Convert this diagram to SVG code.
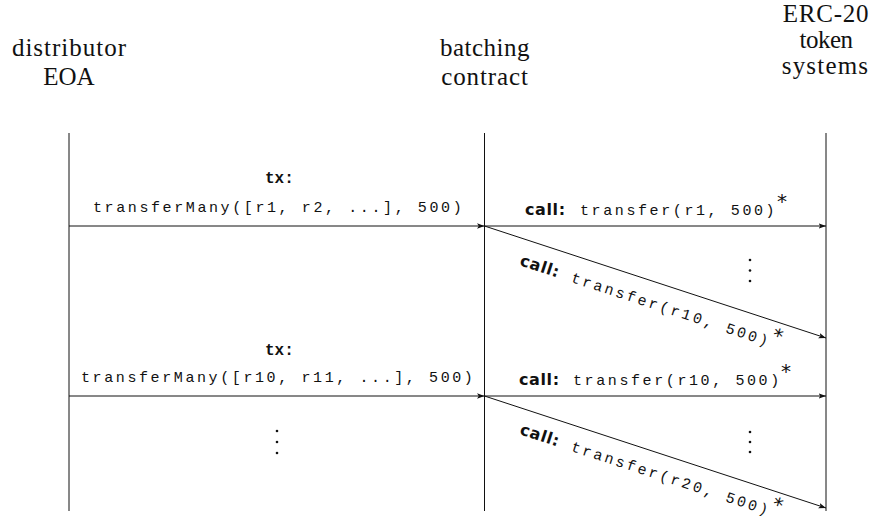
<svg xmlns="http://www.w3.org/2000/svg" width="872" height="516" viewBox="0 0 872 516">
<style>
.hdr{font-family:'Liberation Serif',serif;font-size:25px;fill:#111;text-anchor:middle}
.tt{font-family:'Liberation Mono',monospace;font-size:15px;letter-spacing:2.6px;fill:#111}
.tx{font-family:'Liberation Mono',monospace;font-size:16px;font-weight:bold;fill:#111}
.call{font-family:'DejaVu Sans',sans-serif;font-size:16px;font-weight:bold;letter-spacing:0.6px;fill:#111}
.ast{font-family:'DejaVu Sans',sans-serif;font-size:20px;fill:#111}
.life{stroke:#111;stroke-width:1;fill:none}
.msg{stroke:#111;stroke-width:1;fill:none;marker-end:url(#arr)}
.dot{fill:#111}
</style>
<defs>
<marker id="arr" markerWidth="8" markerHeight="6" refX="7.5" refY="3" orient="auto" markerUnits="userSpaceOnUse">
<path d="M0,0.3 L7.5,3 L0,5.7 L1.8,3 Z" fill="#111"/>
</marker>
</defs>
<rect width="872" height="516" fill="#fff"/>
<g id="distributor">
<text class="hdr" x="69.5" y="56" letter-spacing="1">distributor</text>
<text class="hdr" x="69" y="85">EOA</text>
<line class="life" x1="69" y1="133" x2="69" y2="511"/>
</g>
<g id="batching">
<text class="hdr" x="485" y="56" letter-spacing="0.5">batching</text>
<text class="hdr" x="485" y="85" letter-spacing="0.9">contract</text>
<line class="life" x1="484.5" y1="133" x2="484.5" y2="511"/>
</g>
<g id="erc20">
<text class="hdr" x="826" y="22" letter-spacing="0.8">ERC-20</text>
<text class="hdr" x="826" y="48" letter-spacing="-0.5">token</text>
<text class="hdr" x="825.5" y="74" letter-spacing="1.2">systems</text>
<line class="life" x1="826" y1="133" x2="826" y2="511"/>
</g>
<g id="connectors">
<line class="msg" x1="69" y1="226" x2="484.5" y2="226"/>
<line class="msg" x1="484.5" y1="226" x2="826" y2="226"/>
<line class="msg" x1="484.5" y1="226" x2="826" y2="338"/>
<line class="msg" x1="69" y1="396" x2="484.5" y2="396"/>
<line class="msg" x1="484.5" y1="396" x2="826" y2="396"/>
<line class="msg" x1="484.5" y1="396" x2="826" y2="508"/>
</g>
<g id="labels">
<text class="tx" x="265" y="183">tx:</text>
<text class="tt" x="93" y="212">transferMany([r1, r2, ...], 500)</text>
<text x="525" y="215"><tspan class="call">call:</tspan><tspan class="tt" x="580">transfer(r1, 500)</tspan><tspan class="ast" x="777" y="208">*</tspan></text>
<text transform="translate(519,265) rotate(18.1)"><tspan class="call" x="0" y="0">call:</tspan><tspan class="tt" x="54" y="0">transfer(r10, 500)</tspan><tspan class="ast" x="263" y="-6">*</tspan></text>
<text class="tx" x="265" y="355">tx:</text>
<text class="tt" x="81" y="382">transferMany([r10, r11, ...], 500)</text>
<text x="519" y="385"><tspan class="call">call:</tspan><tspan class="tt" x="573">transfer(r10, 500)</tspan><tspan class="ast" x="781" y="378">*</tspan></text>
<text transform="translate(519,434) rotate(18.1)"><tspan class="call" x="0" y="0">call:</tspan><tspan class="tt" x="54" y="0">transfer(r20, 500)</tspan><tspan class="ast" x="263" y="-6">*</tspan></text>
</g>
<g id="ellipses">
<circle class="dot" cx="750" cy="260" r="1.3"/>
<circle class="dot" cx="750" cy="270.5" r="1.3"/>
<circle class="dot" cx="750" cy="281" r="1.3"/>
<circle class="dot" cx="750" cy="432" r="1.3"/>
<circle class="dot" cx="750" cy="442" r="1.3"/>
<circle class="dot" cx="750" cy="452" r="1.3"/>
<circle class="dot" cx="277" cy="431" r="1.3"/>
<circle class="dot" cx="277" cy="442" r="1.3"/>
<circle class="dot" cx="277" cy="453" r="1.3"/>
</g>
</svg>
